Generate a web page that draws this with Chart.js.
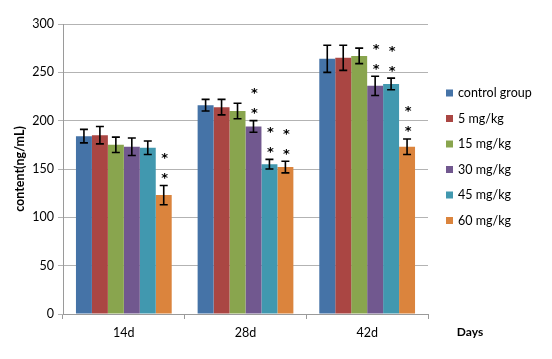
<!DOCTYPE html>
<html>
<head>
<meta charset="utf-8">
<script src="https://cdn.jsdelivr.net/npm/chart.js@4/dist/chart.umd.min.js"></script>
<style>
  html, body { margin: 0; padding: 0; background: #fff; }
  #wrap { width: 552px; height: 359px; }
</style>
</head>
<body>
<div id="wrap"><canvas id="grafico"></canvas></div>
<script>
const dias = ['14d', '28d', '42d'];
const grupos = ['control group', '5 mg/kg', '15 mg/kg', '30 mg/kg', '45 mg/kg', '60 mg/kg'];
const colores = ['#4573A7', '#AA4643', '#89A54E', '#71588F', '#4198AF', '#DB843D'];

const control = [184, 216, 264];
const dosis5 = [185, 214, 265];
const dosis15 = [175, 210, 267];
const dosis30 = [173, 194, 236];
const dosis45 = [172, 155, 238];
const dosis60 = [123, 152, 173];

const errControl = [7, 6, 14];
const err5 = [9, 8, 13];
const err15 = [8, 8, 8];
const err30 = [9, 6, 10];
const err45 = [7, 5, 6];
const err60 = [10, 6, 8];

// asteriscos de significancia
const sig30 = [false, true, true];
const sig45 = [false, true, true];
const sig60 = [true, true, true];
const sigNinguno = [false, false, false];

const ticksY = [0, 50, 100, 150, 200, 250, 300];

const valores = [control, dosis5, dosis15, dosis30, dosis45, dosis60];
const errores = [errControl, err5, err15, err30, err45, err60];
const significancia = [sigNinguno, sigNinguno, sigNinguno, sig30, sig45, sig60];

const fuente = 'Lato, "Open Sans", sans-serif';

const erroresPlugin = {
    id: 'errores',
    afterDatasetsDraw(chart) {
        const ctx = chart.ctx;
        const y = chart.scales.y;
        ctx.save();
        chart.data.datasets.forEach((ds, i) => {
            const meta = chart.getDatasetMeta(i);
            meta.data.forEach((bar, j) => {
                const v = ds.data[j];
                const e = errores[i][j];
                const yTop = y.getPixelForValue(v + e);
                const yBot = y.getPixelForValue(v - e);
                const x = bar.x;
                ctx.strokeStyle = '#000';
                ctx.lineWidth = 1.6;
                ctx.beginPath();
                ctx.moveTo(x, yTop); ctx.lineTo(x, yBot);
                ctx.moveTo(x - 4, yTop); ctx.lineTo(x + 4, yTop);
                ctx.moveTo(x - 4, yBot); ctx.lineTo(x + 4, yBot);
                ctx.stroke();
                if (significancia[i][j]) {
                    ctx.fillStyle = '#000';
                    ctx.font = 'bold 13px "DejaVu Sans", sans-serif';
                    ctx.textAlign = 'center';
                    ctx.textBaseline = 'middle';
                    ctx.fillText('*', x + 1, yTop - 7);
                    ctx.fillText('*', x + 1, yTop - 27);
                }
            });
        });
        ctx.restore();
    }
};

const leyendaPlugin = {
    id: 'leyenda',
    afterDraw(chart) {
        const ctx = chart.ctx;
        ctx.save();
        ctx.font = '12.5px ' + fuente;
        ctx.textBaseline = 'middle';
        ctx.textAlign = 'left';
        grupos.forEach((g, i) => {
            const yy = 93 + i * 25.5;
            ctx.fillStyle = colores[i];
            ctx.fillRect(446, yy - 3.5, 7, 7);
            ctx.fillStyle = '#000';
            ctx.fillText(g, 458, yy);
        });
        ctx.font = 'bold 12px ' + fuente;
        ctx.textAlign = 'center';
        ctx.fillText('Days', 470, 332);
        ctx.restore();
    }
};

const ctx_grafico = document.getElementById('grafico').getContext('2d');
new Chart(ctx_grafico, {
    type: 'bar',
    data: {
        labels: dias,
        datasets: grupos.map((g, i) => ({
            label: g,
            data: valores[i],
            backgroundColor: colores[i],
            borderWidth: 0,
            categoryPercentage: 0.787,
            barPercentage: 1.0,
        })),
    },
    options: {
        responsive: true,
        maintainAspectRatio: false,
        animation: false,
        layout: { padding: { top: 24, right: 124, left: 0, bottom: 0 } },
        plugins: {
            legend: { display: false },
            tooltip: { enabled: false },
        },
        scales: {
            x: {
                afterFit: s => { s.height = 45; },
                grid: { drawOnChartArea: false, color: '#9a9a9a', tickLength: 5, offset: true },
                border: { color: '#9a9a9a' },
                ticks: { color: '#000', font: { family: fuente, size: 12.5 }, padding: 6 },
            },
            y: {
                min: 0,
                max: 300,
                afterFit: s => { s.width = 63; },
                afterBuildTicks: s => { s.ticks = ticksY.map(v => ({ value: v })); },
                grid: { color: '#b3b3b3', tickLength: 5 },
                border: { color: '#9a9a9a' },
                ticks: { color: '#000', font: { family: fuente, size: 12.5 }, padding: 4 },
                title: {
                    display: true,
                    text: 'content(ng/mL)',
                    color: '#000',
                    font: { family: fuente, size: 12.5, weight: 'bold' },
                    padding: { top: 12, bottom: 0 },
                },
            },
        },
    },
    plugins: [erroresPlugin, leyendaPlugin],
});
</script>
</body>
</html>
